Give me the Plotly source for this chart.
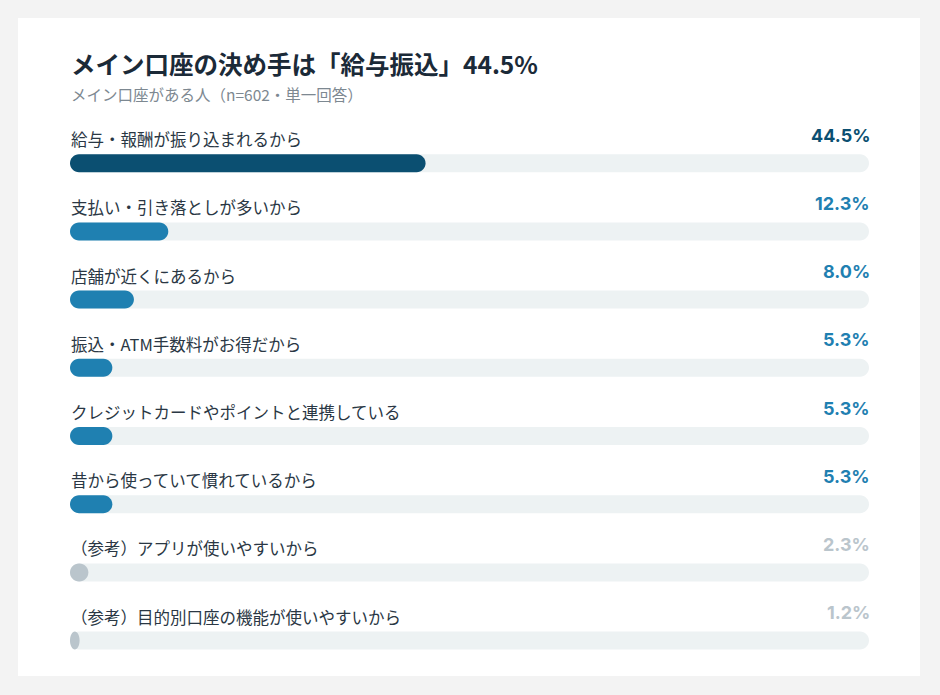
import plotly.graph_objects as go

# data
labels = [
    "給与・報酬が振り込まれるから",
    "支払い・引き落としが多いから",
    "店舗が近くにあるから",
    "振込・ATM手数料がお得だから",
    "クレジットカードやポイントと連携している",
    "昔から使っていて慣れているから",
    "（参考）アプリが使いやすいから",
    "（参考）目的別口座の機能が使いやすいから",
]
values = [44.5, 12.3, 8.0, 5.3, 5.3, 5.3, 2.3, 1.2]
groups = ["top", "main", "main", "main", "main", "main", "ref", "ref"]

title_text = "メイン口座の決め手は「給与振込」44.5%"
subtitle_text = "メイン口座がある人（n=602・単一回答）"

W, H = 940, 695
L, R, T, B = 70, 71, 95, 20
PLOT_W = W - L - R
PLOT_H = H - T - B
ROW_PX = 68.2
Y_RANGE = [PLOT_H / ROW_PX - 1.0, -1.0]
BAR_PX = 18

colors = {"top": "#0b4f71", "main": "#1f80b1", "ref": "#bac5cc"}
TRACK = "#edf2f3"
FONT = "Noto Sans CJK JP"


def px_x(p):
    return (p - L) / PLOT_W


def px_y(p):
    return 1 - (p - T) / PLOT_H


def pill(x1, yc):
    # rounded bar from 0 to x1 (data units), centred on row yc
    rx_full = (BAR_PX / 2) * 100 / PLOT_W
    rx = min(rx_full, x1 / 2)
    ry = (BAR_PX / 2) / ROW_PX
    k = 0.5523
    y0, y1 = yc - ry, yc + ry
    a, b = rx, x1 - rx
    return (
        f"M {a},{y0} L {b},{y0} "
        f"C {b + k * rx},{y0} {x1},{yc - k * ry} {x1},{yc} "
        f"C {x1},{yc + k * ry} {b + k * rx},{y1} {b},{y1} "
        f"L {a},{y1} "
        f"C {a - k * rx},{y1} 0,{yc + k * ry} 0,{yc} "
        f"C 0,{yc - k * ry} {a - k * rx},{y0} {a},{y0} Z"
    )


fig = go.Figure()
fig.add_trace(go.Scatter(x=values, y=list(range(len(values))), mode="markers",
                         marker=dict(opacity=0), hoverinfo="skip", showlegend=False))

shapes = [dict(type="rect", xref="paper", yref="paper",
               x0=px_x(18), x1=px_x(920), y0=px_y(676), y1=px_y(18),
               fillcolor="white", line=dict(width=0), layer="below")]
annotations = []

for i, (lab, v, g) in enumerate(zip(labels, values, groups)):
    shapes.append(dict(type="path", xref="x", yref="y", path=pill(100, i),
                       fillcolor=TRACK, line=dict(width=0), layer="below"))
    shapes.append(dict(type="path", xref="x", yref="y", path=pill(v, i),
                       fillcolor=colors[g], line=dict(width=0), layer="below"))
    annotations.append(dict(x=0, y=i, xref="x", yref="y", text=lab, showarrow=False,
                            xanchor="left", yanchor="middle", yshift=24, xshift=-1,
                            font=dict(family=FONT, size=16.5, color="#2a3744")))
    annotations.append(dict(x=100, y=i, xref="x", yref="y", text=f"{v:.1f}%",
                            showarrow=False, xanchor="right", yanchor="middle",
                            yshift=28, xshift=3,
                            font=dict(family="Inter", size=18, color=colors[g],
                                      weight="bold")))

annotations.append(dict(x=px_x(69), y=px_y(63.5), xref="paper", yref="paper",
                        text=f"<b>{title_text}</b>", showarrow=False,
                        xanchor="left", yanchor="middle",
                        font=dict(family=FONT, size=24.5, color="#1b2a38")))
annotations.append(dict(x=px_x(69), y=px_y(93.5), xref="paper", yref="paper",
                        text=subtitle_text, showarrow=False,
                        xanchor="left", yanchor="middle",
                        font=dict(family=FONT, size=15.5, color="#7d8891")))

fig.update_layout(
    width=W, height=H,
    margin=dict(l=L, r=R, t=T, b=B),
    paper_bgcolor="#f3f3f3",
    plot_bgcolor="rgba(0,0,0,0)",
    xaxis=dict(range=[0, 100], visible=False, fixedrange=True),
    yaxis=dict(range=Y_RANGE, visible=False, fixedrange=True),
    shapes=shapes,
    annotations=annotations,
    showlegend=False,
)

# page has a default 8px body margin; drop it so the figure sits at the origin
fig.write_html("out.html", config={"displayModeBar": False},
               post_script="document.body.style.margin='0';document.body.style.overflow='hidden';")
